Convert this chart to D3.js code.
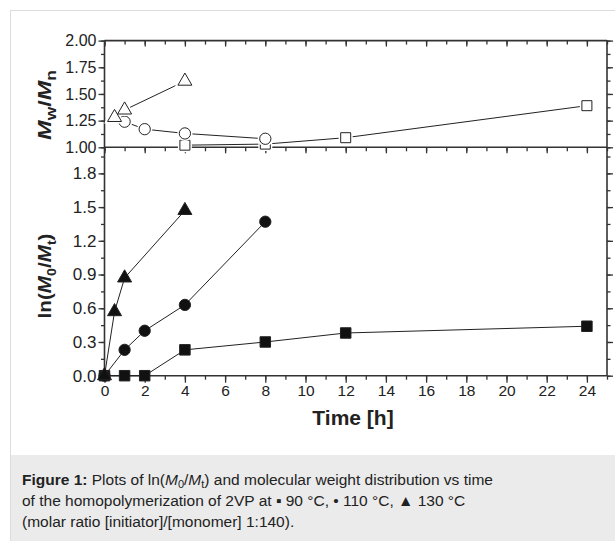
<!DOCTYPE html>
<html>
<head>
<meta charset="utf-8">
<script src="https://d3js.org/d3.v7.min.js"></script>
<style>
body { margin: 0; background: #fff; }
svg { display: block; font-family: "Liberation Sans", Arial, sans-serif; }
</style>
</head>
<body>
<div id="chart"></div>
<script>
var w = 615, h = 541;

// time [h] for each series
var time90 = [0, 1, 2, 4, 8, 12, 24];
var time110 = [0, 1, 2, 4, 8];
var time130 = [0, 0.5, 1, 4];

// ln(M0/Mt)
var ln90 = [0, 0, 0, 0.23, 0.30, 0.38, 0.44];
var ln110 = [0, 0.23, 0.40, 0.63, 1.37];
var ln130 = [0, 0.57, 0.87, 1.47];

// Mw/Mn (open symbols)
var pdiTime90 = [4, 8, 12, 24];
var pdi90 = [1.02, 1.03, 1.09, 1.39];
var pdiTime110 = [1, 2, 4, 8];
var pdi110 = [1.24, 1.17, 1.13, 1.08];
var pdiTime130 = [0.5, 1, 4];
var pdi130 = [1.28, 1.35, 1.62];

var xTicks = [0, 2, 4, 6, 8, 10, 12, 14, 16, 18, 20, 22, 24];
var topTicks = [1.00, 1.25, 1.50, 1.75, 2.00];
var botTicks = [0.0, 0.3, 0.6, 0.9, 1.2, 1.5, 1.8];

var svg = d3.select("#chart")
  .append("svg")
  .attr("width", w)
  .attr("height", h);

// page frame + caption box
svg.append("rect")
  .attr("x", 10.5).attr("y", 10.5)
  .attr("width", 620).attr("height", 540)
  .attr("fill", "#fff").attr("stroke", "#dcdcdc");
svg.append("rect")
  .attr("x", 11).attr("y", 455)
  .attr("width", 610).attr("height", 90)
  .attr("fill", "#ebebeb");

var left = 104.5, right = 607;
var x = d3.scaleLinear().domain([0, 25]).range([left, right]);
var yTop = d3.scaleLinear().domain([1, 2]).range([147.3, 40.6]);
var yBot = d3.scaleLinear().domain([0, 2.032]).range([375.7, 147.3]);

var axisCol = "#333";

function minors(step, lo, hi) {
  var out = [];
  for (var v = lo; v <= hi + 1e-9; v += step) out.push(+v.toFixed(4));
  return out;
}

// --- x axes ---
var xMinor = minors(1, 0, 25);
// bottom (outward, labelled)
var gxb = svg.append("g").attr("transform", "translate(0,375.7)");
gxb.call(d3.axisBottom(x).tickValues(xMinor).tickSize(4).tickFormat(""));
var gxbl = gxb.append("g").call(d3.axisBottom(x).tickValues(xTicks).tickSize(7).tickPadding(2).tickFormat(d3.format("d")));
// middle line (inward ticks into lower panel)
var gxm = svg.append("g").attr("transform", "translate(0,147.3)");
gxm.call(d3.axisBottom(x).tickValues(xMinor).tickSize(4).tickFormat(""));
gxm.append("g").call(d3.axisBottom(x).tickValues(xTicks).tickSize(6).tickFormat(""));
// top line (inward)
var gxt = svg.append("g").attr("transform", "translate(0,40.6)");
gxt.call(d3.axisBottom(x).tickValues(xMinor).tickSize(4).tickFormat(""));
gxt.append("g").call(d3.axisBottom(x).tickValues(xTicks).tickSize(6).tickFormat(""));

// --- y axes ---
var topMinor = minors(0.125, 1, 2);
var botMinor = minors(0.15, 0, 2.0);
function yAxes(scale, ticks, minorTicks, fmt, fs) {
  var gl = svg.append("g").attr("transform", "translate(" + left + ",0)");
  gl.call(d3.axisLeft(scale).tickValues(minorTicks).tickSize(3.5).tickFormat(""));
  var lab = gl.append("g").call(d3.axisLeft(scale).tickValues(ticks).tickSize(6).tickPadding(2).tickFormat(fmt));
  lab.selectAll("text").attr("data-fs", fs);
  var gr = svg.append("g").attr("transform", "translate(" + right + ",0)");
  gr.call(d3.axisRight(scale).tickValues(minorTicks).tickSize(3.5).tickFormat(""));
  gr.append("g").call(d3.axisRight(scale).tickValues(ticks).tickSize(6).tickFormat(""));
}
yAxes(yTop, topTicks, topMinor, d3.format(".2f"), 16);
yAxes(yBot, botTicks, botMinor, d3.format(".1f"), 17);

svg.selectAll(".domain").remove();
svg.selectAll(".tick line").attr("stroke", axisCol).attr("stroke-width", 1.3);
svg.selectAll(".tick text")
  .attr("fill", "#222")
  .style("font-family", "'Liberation Sans', Arial, sans-serif")
  .style("font-size", function() { return (this.getAttribute("data-fs") || 15.5) + "px"; });

// frame lines
[[left, 40.6, right, 40.6], [left, 147.3, right, 147.3], [left, 375.7, right, 375.7],
 [left, 40.6, left, 375.7], [right, 40.6, right, 375.7]].forEach(function(l) {
  svg.append("line")
    .attr("x1", l[0]).attr("y1", l[1]).attr("x2", l[2]).attr("y2", l[3])
    .attr("stroke", axisCol).attr("stroke-width", 1.6);
});

// --- series ---
function zip(a, b) { return a.map(function(v, i) { return [v, b[i]]; }); }

var series = [
  { pts: zip(time90, ln90), y: yBot, sym: d3.symbolSquare, fill: "#111", size: 110 },
  { pts: zip(time110, ln110), y: yBot, sym: d3.symbolCircle, fill: "#111", size: 100 },
  { pts: zip(time130, ln130), y: yBot, sym: d3.symbolTriangle, fill: "#111", size: 85 },
  { pts: zip(pdiTime90, pdi90), y: yTop, sym: d3.symbolSquare, fill: "#fff", size: 100 },
  { pts: zip(pdiTime110, pdi110), y: yTop, sym: d3.symbolCircle, fill: "#fff", size: 100 },
  { pts: zip(pdiTime130, pdi130), y: yTop, sym: d3.symbolTriangle, fill: "#fff", size: 85 }
];

series.forEach(function(s) {
  var line = d3.line().x(function(d) { return x(d[0]); }).y(function(d) { return s.y(d[1]); });
  svg.append("path")
    .datum(s.pts)
    .attr("d", line)
    .attr("fill", "none")
    .attr("stroke", "#222")
    .attr("stroke-width", 1);
});
series.forEach(function(s) {
  var open = s.fill === "#fff";
  var g = svg.append("g");
  if (open) {
    // white halo so lines stop short of the open symbols
    g.selectAll(null)
      .data(s.pts)
      .enter()
      .append("path")
      .attr("transform", function(d) { return "translate(" + x(d[0]) + "," + s.y(d[1]) + ")"; })
      .attr("d", d3.symbol().type(s.sym).size(s.size))
      .attr("fill", "#fff")
      .attr("stroke", "#fff")
      .attr("stroke-width", 4);
  }
  g.selectAll(null)
    .data(s.pts)
    .enter()
    .append("path")
    .attr("transform", function(d) { return "translate(" + x(d[0]) + "," + s.y(d[1]) + ")"; })
    .attr("d", d3.symbol().type(s.sym).size(s.size))
    .attr("fill", s.fill)
    .attr("stroke", "#222")
    .attr("stroke-width", 1);
});

// --- axis titles ---
var t1 = svg.append("text")
  .attr("transform", "translate(51,105) rotate(-90) scale(1.24,1)")
  .attr("text-anchor", "middle")
  .style("font-size", "19px").style("font-weight", "bold").attr("fill", "#222");
t1.append("tspan").style("font-style", "italic").text("M");
t1.append("tspan").attr("dy", 5).style("font-size", "14px").text("w");
t1.append("tspan").attr("dy", -5).text("/");
t1.append("tspan").style("font-style", "italic").text("M");
t1.append("tspan").attr("dy", 5).style("font-size", "14px").text("n");

var t2 = svg.append("text")
  .attr("transform", "translate(51,276) rotate(-90) scale(1.09,1)")
  .attr("text-anchor", "middle")
  .style("font-size", "19px").style("font-weight", "bold").attr("fill", "#222");
t2.append("tspan").text("ln(");
t2.append("tspan").style("font-style", "italic").text("M");
t2.append("tspan").attr("dy", 5).style("font-size", "13px").text("0");
t2.append("tspan").attr("dy", -5).text("/");
t2.append("tspan").style("font-style", "italic").text("M");
t2.append("tspan").attr("dy", 5).style("font-size", "13px").text("t");
t2.append("tspan").attr("dy", -5).text(")");

svg.append("text")
  .attr("x", 353).attr("y", 424.5)
  .attr("text-anchor", "middle")
  .style("font-size", "21px").style("font-weight", "bold").attr("fill", "#222")
  .text("Time [h]");

// --- caption ---
var cap = svg.append("g").style("font-size", "15.5px").attr("fill", "#222");
var l1 = cap.append("text").attr("x", 22).attr("y", 485);
l1.append("tspan").style("font-weight", "bold").text("Figure 1:");
l1.append("tspan").text(" Plots of ln(");
l1.append("tspan").style("font-style", "italic").text("M");
l1.append("tspan").attr("dy", 3).style("font-size", "11px").text("0");
l1.append("tspan").attr("dy", -3).text("/");
l1.append("tspan").style("font-style", "italic").text("M");
l1.append("tspan").attr("dy", 3).style("font-size", "11px").text("t");
l1.append("tspan").attr("dy", -3).text(") and molecular weight distribution vs time");
cap.append("text").attr("x", 22).attr("y", 506)
  .text("of the homopolymerization of 2VP at \u25AA 90 \u00B0C, \u2022 110 \u00B0C, \u25B2 130 \u00B0C");
cap.append("text").attr("x", 22).attr("y", 527)
  .text("(molar ratio [initiator]/[monomer] 1:140).");
</script>
</body>
</html>
